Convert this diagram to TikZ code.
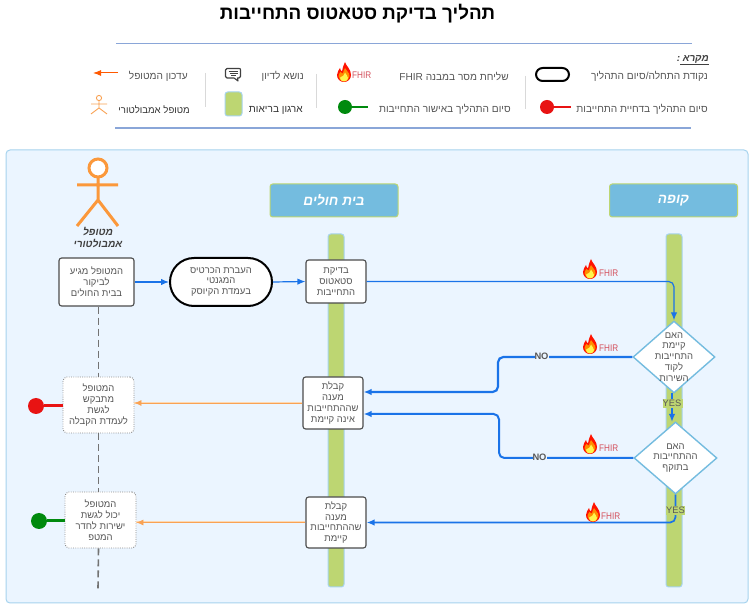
\documentclass[tikz,border=0pt]{standalone}
\usepackage{fontspec}
\setmainfont{Liberation Sans}
\newfontfamily\hebf[Script=Hebrew]{Liberation Sans}
\TeXXeTstate=1
\usetikzlibrary{arrows.meta,shapes.geometric}
\newcommand{\heb}[1]{{\hebf\beginR #1\endR}}
\def\px{0.75pt}
\definecolor{flow}{HTML}{1A73E8}
\definecolor{ora}{HTML}{F9A254}
\definecolor{orahalo}{HTML}{FCD9B4}
\definecolor{txt}{HTML}{555555}
\definecolor{panelfill}{HTML}{EBF5FF}
\definecolor{panelline}{HTML}{A6D3EE}
\definecolor{lanefill}{HTML}{BDD672}
\definecolor{headfill}{HTML}{74BCDF}
\definecolor{rulecol}{HTML}{8AA6D8}
\definecolor{endred}{HTML}{E81313}
\definecolor{endgreen}{HTML}{008A0E}
\definecolor{fhirred}{HTML}{D4505C}
\tikzset{
  body/.style={font=\fontsize{7.1}{8.15}\selectfont,text=txt,align=center,inner sep=0pt},
  stepbox/.style={body,draw=black!70,line width=1.1*\px,fill=white,rounded corners=2pt},
  softbox/.style={body,draw=black!45,densely dotted,line width=0.9*\px,fill=white,rounded corners=3pt},
  termbox/.style={body,draw=black,line width=2*\px,fill=white,rounded corners=18pt},
  decision/.style={diamond,draw=headfill,line width=1.4*\px,fill=white,inner sep=0pt},
  lane/.style={draw=panelline,line width=1*\px,fill=lanefill,rounded corners=2pt},
  header/.style={draw=lanefill,line width=1*\px,fill=headfill,rounded corners=2pt,text=white,
     font=\fontsize{10.2}{12}\selectfont\bfseries\itshape,inner sep=0pt,minimum width=128*\px,minimum height=33*\px},
  legend/.style={anchor=east,inner sep=0pt,text=txt,font=\fontsize{7.6}{9}\selectfont},
  flowline/.style={draw=flow,line width=1.2*\px,rounded corners=4pt,-{Latex[length=8*\px,width=6.5*\px]}},
  flowthick/.style={flowline,line width=2.2*\px},
  flowmid/.style={flowline,line width=1.7*\px},
  answer/.style={draw=orahalo,line width=2*\px,postaction={draw=ora,line width=0.7*\px,-{Latex[length=7*\px,width=6*\px]}}},
  actorline/.style={draw=ora!70!orange,line width=3*\px},
  smallactor/.style={draw=ora,line width=0.9*\px},
  dashline/.style={draw=black!55,line width=1.6*\px,dash pattern=on 7*\px off 4*\px},
  endline/.style={line width=3*\px},
  divider/.style={draw=black!15,line width=0.9*\px},
  yesno/.style={inner sep=0pt,text=black!65,font=\fontsize{7}{9}\selectfont},
  fhirtext/.style={inner sep=0pt,anchor=west,text=fhirred,xscale=0.85,font=\fontsize{7.2}{8}\selectfont},
  fhirflame/.pic={
    \fill[red!85!orange] (8,0) .. controls (9,4) and (14,7) .. (14,13) .. controls (14,17) and (11,20) .. (7,20)
      .. controls (3,20) and (0,17) .. (0,13) .. controls (0,10) and (2,8) .. (3,6)
      .. controls (3.5,8) and (4,9) .. (5,9.5) .. controls (5,6) and (7,3) .. (8,0) -- cycle;
    \fill[orange!90!yellow] (8,6) .. controls (9,9) and (12.5,10) .. (12.5,14) .. controls (12.5,17) and (10,19.5) .. (7,19.5)
      .. controls (4,19.5) and (1.5,17) .. (1.5,14) .. controls (1.5,12) and (3,11) .. (3.5,10)
      .. controls (4.5,11) and (5.5,11.5) .. (6,11.5) .. controls (6,10) and (7,8) .. (8,6) -- cycle;
    \fill[yellow!70!white] (8,10.5) .. controls (9,13) and (11,14) .. (11,16) .. controls (11,18) and (9,19.5) .. (7,19.5)
      .. controls (5,19.5) and (3,18) .. (3,16) .. controls (3,15) and (5,14.5) .. (6,14) .. controls (6.5,13.5) and (7.5,12) .. (8,10.5) -- cycle;
  }
}
\begin{document}
\begin{tikzpicture}[x=0.75pt,y=-0.75pt]
\useasboundingbox (0,0) rectangle (754,609);
\fill[white] (0,0) rectangle (754,609);

% title and legend frame
\node[inner sep=0pt,text=black,font=\fontsize{14.1}{16}\selectfont\bfseries] (title) at (357.5,14) {\heb{תהליך בדיקת סטאטוס התחייבות}};
\coordinate (ruleAl) at (116,43.6); \coordinate (ruleAr) at (692,43.6);
\coordinate (ruleBl) at (115,127.6); \coordinate (ruleBr) at (691,127.6);
\fill[rulecol] (116,42.7) rectangle (692,44.4);
\fill[rulecol] (115,126.7) rectangle (691,128.6);

% legend
\node[legend,text=black!75,font=\fontsize{7.4}{9}\selectfont\bfseries\itshape] (lgTitle) at (709,59.5) {\heb{מקרא :}};
\coordinate (lgUlA) at (680,64.5); \coordinate (lgUlB) at (709,64.5);
\draw[black!75,line width=0.8*\px] (lgUlA) -- (lgUlB);
\node[legend] (lgStart) at (708,76) {\heb{נקודת התחלה/סיום התהליך}};
\node[draw=black,line width=2*\px,fill=white,rounded corners=5pt,minimum width=33*\px,minimum height=13*\px,inner sep=0pt] (lgTerm) at (552.5,74.5) {};
\node[legend] (lgFhir) at (509,76) {\heb{שליחת מסר במבנה \beginL FHIR\endL}};
\pic at (337,62) {fhirflame};
\node[fhirtext] (lgFhirMark) at (352,75) {FHIR};
\node[legend] (lgTopic) at (304,76) {\heb{נושא לדיון}};
\node[legend] (lgUpdate) at (188,76) {\heb{עדכון המטופל}};
\node[legend] (lgReject) at (708,109) {\heb{סיום התהליך בדחיית התחייבות}};
\node[legend] (lgApprove) at (511,109) {\heb{סיום התהליך באישור התחייבות}};
\node[legend,text=black!80] (lgOrg) at (303,110) {\heb{ארגון בריאות}};
\node[legend,text=black!80,font=\fontsize{7.2}{9}\selectfont] (lgPatient) at (190,110) {\heb{מטופל אמבולטורי}};
\draw[divider] (525.5,76) -- (525.5,109);
\draw[divider] (316,74) -- (316,108);
\draw[divider] (205.5,73) -- (205.5,107);
% legend marks
\coordinate (lgArrA) at (118,73); \coordinate (lgArrB) at (93,73);
\draw[draw=orange!70!red,line width=1*\px,-{Latex[length=8*\px,width=6*\px]}] (lgArrA) -- (lgArrB);
\node[circle,fill=endred,inner sep=0pt,minimum size=14*\px] (lgRed) at (547,107) {};
\coordinate (lgRedEnd) at (571,107);
\draw[endred,line width=1.6*\px] (lgRed) -- (lgRedEnd);
\node[circle,fill=endgreen,inner sep=0pt,minimum size=14*\px] (lgGreen) at (345,107) {};
\coordinate (lgGreenEnd) at (368,107);
\draw[endgreen,line width=1.6*\px] (lgGreen) -- (lgGreenEnd);
\node[draw=panelline,line width=1*\px,fill=lanefill,rounded corners=2pt,minimum width=17*\px,minimum height=24*\px,inner sep=0pt] (lgLane) at (233.5,104) {};
% speech bubble
\draw[black!75,line width=1.1*\px,line join=round,fill=white]
  (227,68.5) -- (239,68.5) .. controls (240.5,68.5) and (240.5,69) .. (240.5,70) -- (240.5,76.5)
  .. controls (240.5,77.5) and (240,78) .. (239,78) -- (237.5,78) -- (238,81) -- (234,78) -- (227,78)
  .. controls (226,78) and (225.5,77.5) .. (225.5,76.5) -- (225.5,70) .. controls (225.5,69) and (226,68.5) .. (227,68.5) -- cycle;
\draw[black!75,line width=0.8*\px] (228.5,71) -- (237.5,71) (229.5,73.3) -- (237.5,73.3) (231,75.6) -- (236,75.6);
% small actor
\draw[smallactor] (99,98) circle (2.6);
\draw[smallactor] (99,100.6) -- (99,108) (91,104) -- (107,104) (91,114) -- (99,108) -- (107,114);

% panel and lanes
\draw[draw=panelline,line width=1*\px,fill=panelfill,rounded corners=3pt] (6,150) rectangle (748,603);
\draw[lane] (328,234) rectangle (344,587);
\draw[lane] (666,234) rectangle (682,587);
\node[header] (hospital) at (334,200.5) {\heb{בית חולים}};
\node[header] (hmo) at (673.5,200.5) {\heb{קופה}};

% big actor
\draw[actorline,fill=white] (98,168) circle (9);
\draw[actorline] (98,177) -- (98,200) (77,185) -- (118,185) (77,226) -- (98,200) -- (118,226);
\node[inner sep=0pt,align=center,text=black!75,font=\fontsize{7.6}{9}\selectfont\bfseries\itshape] (actorName) at (98,238)
  {\heb{מטופל}\\\heb{אמבולטורי}};

% process nodes
\node[stepbox,minimum width=75*\px,minimum height=48*\px] (arrive) at (96.5,282)
  {\heb{המטופל מגיע}\\\heb{לביקור}\\\heb{בבית החולים}};
\node[termbox,minimum width=102*\px,minimum height=48*\px] (card) at (221,282)
  {\heb{העברת הכרטיס}\\\heb{המגנטי}\\\heb{בעמדת הקיוסק}};
\node[stepbox,minimum width=60*\px,minimum height=43*\px] (check) at (336,281.5)
  {\heb{בדיקת}\\\heb{סטאטוס}\\\heb{התחייבות}};
\node[stepbox,minimum width=60*\px,minimum height=52*\px] (noCover) at (333,403)
  {\heb{קבלת}\\\heb{מענה}\\\heb{שההתחייבות}\\\heb{אינה קיימת}};
\node[stepbox,minimum width=60*\px,minimum height=51*\px] (hasCover) at (336,522.5)
  {\heb{קבלת}\\\heb{מענה}\\\heb{שההתחייבות}\\\heb{קיימת}};
\node[softbox,minimum width=71*\px,minimum height=56*\px] (toDesk) at (98.5,405)
  {\heb{המטופל}\\\heb{מתבקש}\\\heb{לגשת}\\\heb{לעמדת הקבלה}};
\node[softbox,minimum width=71*\px,minimum height=56*\px] (toRoom) at (100.5,520)
  {\heb{המטופל}\\\heb{יכול לגשת}\\\heb{ישירות לחדר}\\\heb{המטפ}};
\node[decision,minimum width=82*\px,minimum height=72*\px,
  label={[body]center:{\heb{האם}\\\heb{קיימת}\\\heb{התחייבות}\\\heb{לקוד}\\\heb{השירות}}}] (askCode) at (674,357) {};
\node[decision,minimum width=83*\px,minimum height=72*\px,
  label={[body]center:{\heb{האם}\\\heb{ההתחייבות}\\\heb{בתוקף}}}] (askValid) at (675.5,458) {};

% dashed lifeline
\coordinate (lifeEnd) at (98,589);
\draw[dashline] (arrive.south -| toDesk.north) -- (toDesk.north);
\draw[dashline] (toDesk.south) -- (toDesk.south |- toRoom.north);
\draw[dashline] (toRoom.south -| toDesk.south) -- (lifeEnd);

% end markers
\node[circle,fill=endred,inner sep=0pt,minimum size=16*\px] (endRed) at (36,406) {};
\draw[endred,endline] (endRed) -- (toDesk.west |- endRed);
\node[circle,fill=endgreen,inner sep=0pt,minimum size=16*\px] (endGreen) at (39,521) {};
\draw[endgreen,endline] (endGreen) -- (toRoom.west |- endGreen);

% flows
\draw[flowline] (arrive.east) -- (card.west);
\draw[flowline] (card.east) -- (check.west);
\draw[flowline] (check.east) -- (check.east -| askCode.north) -- (askCode.north);
\coordinate (jogA) at (498,357); \coordinate (inA) at (noCover.east |- 0,392);
\coordinate (jogB) at (499,458); \coordinate (inB) at (noCover.east |- 0,414);
\draw[flowthick] (askCode.west) -- (jogA) -- (jogA |- inA) -- (inA);
\draw[flowmid,line width=2*\px] (askValid.west) -- (jogB) -- (jogB |- inB) -- (inB);
\coordinate (codeOut) at (672,393.5); \coordinate (validIn) at (672,422);
\draw[flowthick] (codeOut) -- (validIn);
\draw[flowmid] (askValid.south) -- (askValid.south |- hasCover.east) -- (hasCover.east);
\draw[answer] (noCover.west |- 0,403) -- (toDesk.east |- 0,403);
\draw[answer] (hasCover.west) -- (toRoom.east |- hasCover.west);

% branch labels
\fill[lanefill] (663,399) rectangle (683,408);
\node[yesno] (yesA) at (672,403.5) {YES};
\fill[lanefill] (666,506) rectangle (685,515);
\node[yesno] (yesB) at (675.5,510.5) {YES};
\node[yesno,font=\fontsize{7}{9}\selectfont\bfseries,fill=panelfill] (noA) at (541.5,356.5) {NO};
\node[yesno,font=\fontsize{7}{9}\selectfont\bfseries,fill=panelfill] (noB) at (539.5,457.5) {NO};

% FHIR marks on connectors
\pic at (583,259) {fhirflame};
\node[fhirtext] (fhirA) at (599,273) {FHIR};
\pic at (583,334) {fhirflame};
\node[fhirtext] (fhirB) at (599,348) {FHIR};
\pic at (583,434) {fhirflame};
\node[fhirtext] (fhirC) at (599,448) {FHIR};
\pic at (586,502) {fhirflame};
\node[fhirtext] (fhirD) at (601,516) {FHIR};
\end{tikzpicture}
\end{document}
